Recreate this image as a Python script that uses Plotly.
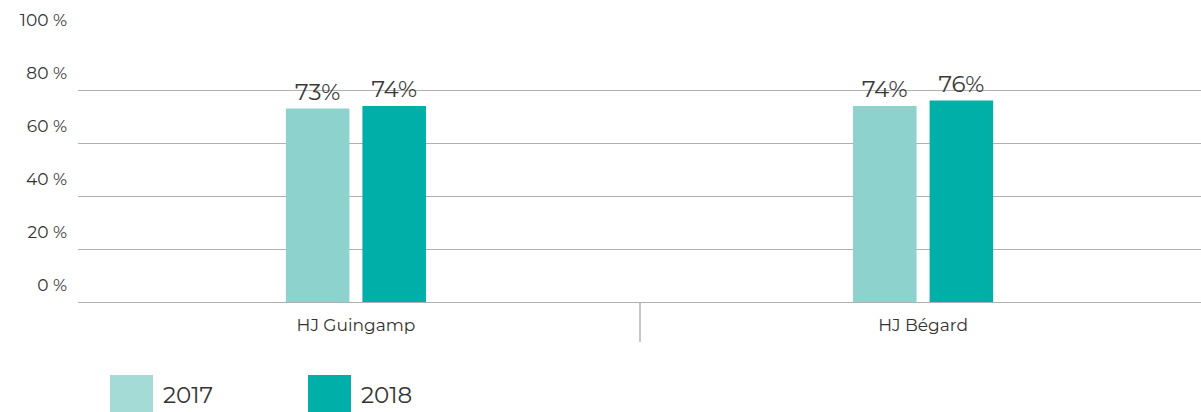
import plotly.graph_objects as go

categories = ["HJ Guingamp", "HJ Bégard"]
series_names = ["2017", "2018"]
values_2017 = [73, 74]
values_2018 = [74, 76]
y_ticks = [0, 20, 40, 60, 80, 100]
y_tick_labels = ["0 %", "20 %", "40 %", "60 %", "80 %", "100 %"]

bar_colors = ["#8ED2CE", "#00AFA8"]
legend_colors = ["#A4DBD6", "#00AFA8"]
FONT = "Montserrat, DejaVu Sans, sans-serif"

W, H = 1201, 412
ML, MR, MT, MB = 78, 0, 37, 110
PW, PH = W - ML - MR, H - MT - MB


def px_x(x):
    return (x - ML) / PW


def px_y(y):
    return (H - MB - y) / PH


fig = go.Figure()
for name, vals, col in zip(series_names, [values_2017, values_2018], bar_colors):
    fig.add_trace(go.Bar(
        x=categories, y=vals, name=name, marker=dict(color=col, line=dict(width=0)),
        text=[f"{v}%" for v in vals], textposition="outside", cliponaxis=False,
        textfont=dict(family=FONT, size=23, color="#3a3a3a"),
        showlegend=False,
    ))

# custom legend with large swatches
leg_x = [110, 308]
for i, (name, col) in enumerate(zip(series_names, legend_colors)):
    fig.add_shape(type="rect", xref="paper", yref="paper",
                  x0=px_x(leg_x[i]), x1=px_x(leg_x[i] + 43),
                  y0=px_y(375), y1=px_y(413), fillcolor=col, line=dict(width=0),
                  layer="above")
    fig.add_annotation(xref="paper", yref="paper", x=px_x(leg_x[i] + 51), y=px_y(395),
                       text=name, showarrow=False, xanchor="left", yanchor="middle",
                       font=dict(family=FONT, size=23, color="#333333"))

fig.update_layout(
    width=W, height=H,
    margin=dict(l=ML, r=MR, t=MT, b=MB, pad=0),
    plot_bgcolor="white", paper_bgcolor="white",
    barmode="group", bargap=0.73, bargroupgap=0.17,
    font=dict(family=FONT, color="#333333"),
    xaxis=dict(
        type="category", range=[-0.49, 1.49],
        showgrid=False, showline=False, zeroline=False,
        ticks="outside", tickson="boundaries", ticklen=39, tickwidth=2,
        tickcolor="#c8c8c8", ticklabelstandoff=11,
        tickfont=dict(family=FONT, size=17, color="#333333"),
    ),
    yaxis=dict(
        range=[0, 100], tickvals=y_ticks, ticktext=y_tick_labels,
        showgrid=True, gridcolor="#b0b0b0", gridwidth=1.3,
        zeroline=True, zerolinecolor="#b0b0b0", zerolinewidth=1.3,
        showline=False, ticks="", ticklabelshift=-17, ticklabelstandoff=10,
        tickfont=dict(family=FONT, size=17, color="#333333"),
    ),
)

fig.write_html("out.html")
